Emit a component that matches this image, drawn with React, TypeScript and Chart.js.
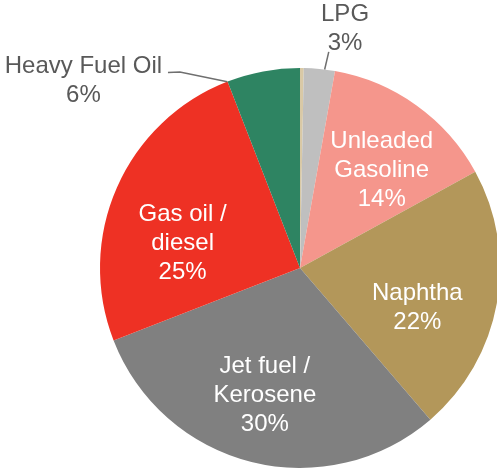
import React, { useEffect, useRef } from "react";
import { Chart, registerables } from "chart.js";

Chart.register(...registerables);

const categories = ["Other", "LPG", "Unleaded Gasoline", "Naphtha", "Jet fuel / Kerosene", "Gas oil / diesel", "Heavy Fuel Oil"];
const values = [0.3, 2.5, 14.2, 21.7, 30.4, 25.0, 5.9];
const nameLines = [[], ["LPG"], ["Unleaded", "Gasoline"], ["Naphtha"], ["Jet fuel /", "Kerosene"], ["Gas oil /", "diesel"], ["Heavy Fuel Oil"]];
const pctLabels = ["", "3%", "14%", "22%", "30%", "25%", "6%"];
const colors = ["#d9c9a6", "#bfbfbf", "#f5968c", "#b3975a", "#808080", "#ee3124", "#2e8462"];

// label placement relative to each slice: angle offset (deg) from mid-angle, radius factor
const placement = [
  null,
  { off: 5.1, rf: 1.215, color: "#595959", leader: [[2.0, 1.09], [1.5, 1.0]] },
  { off: 4.4, rf: 0.635, color: "#ffffff" },
  { off: 8.6, rf: 0.62, color: "#ffffff" },
  { off: 1.4, rf: 0.66, color: "#ffffff" },
  { off: -11.8, rf: 0.6, color: "#ffffff" },
  { off: -38.6, rf: 1.43, color: "#595959", leader: [[-23.4, 1.18], [-20.9, 1.149], [-10.7, 1.0]] },
];

const labelPlugin = {
  id: "sliceLabels",
  afterDatasetsDraw(chart: any) {
    const ctx = chart.ctx;
    const meta = chart.getDatasetMeta(0);
    ctx.save();
    ctx.font = '24px "Liberation Sans", Arial, sans-serif';
    ctx.textAlign = "center";
    ctx.textBaseline = "middle";
    const lh = 29;
    meta.data.forEach((arc: any, i: number) => {
      const p = placement[i];
      if (!p) return;
      const mid = (arc.startAngle + arc.endAngle) / 2;
      const r = arc.outerRadius;
      const cx = arc.x;
      const cy = arc.y;
      if (p.leader) {
        ctx.beginPath();
        ctx.strokeStyle = "#6f6f6f";
        ctx.lineWidth = 1.5;
        p.leader.forEach((pt: number[], k: number) => {
          const a = mid + (pt[0] * Math.PI) / 180;
          const x = cx + Math.cos(a) * r * pt[1];
          const y = cy + Math.sin(a) * r * pt[1];
          if (k === 0) ctx.moveTo(x, y);
          else ctx.lineTo(x, y);
        });
        ctx.stroke();
      }
      const a = mid + (p.off * Math.PI) / 180;
      const x = cx + Math.cos(a) * r * p.rf;
      const y = cy + Math.sin(a) * r * p.rf;
      const lines = [...nameLines[i], pctLabels[i]];
      ctx.fillStyle = p.color;
      lines.forEach((t, k) => {
        ctx.fillText(t, x, y + (k - (lines.length - 1) / 2) * lh);
      });
    });
    ctx.restore();
  },
};

export default function App() {
  const ref = useRef<HTMLCanvasElement>(null);
  useEffect(() => {
    if (!ref.current) return;
    const chart = new Chart(ref.current, {
      type: "pie",
      data: {
        labels: categories,
        datasets: [
          {
            data: values,
            backgroundColor: colors,
            borderWidth: 0,
          },
        ],
      },
      options: {
        responsive: false,
        animation: false,
        layout: { padding: { left: 100, top: 68, right: 0, bottom: 1 } },
        plugins: { legend: { display: false }, tooltip: { enabled: false } },
      },
      plugins: [labelPlugin],
    });
    return () => chart.destroy();
  }, []);
  return (
    <div style={{ position: "absolute", left: 0, top: 0, width: 497, height: 469, overflow: "hidden", background: "#fff" }}>
      <canvas ref={ref} width={500} height={469} style={{ width: 500, height: 469, display: "block" }} />
    </div>
  );
}
